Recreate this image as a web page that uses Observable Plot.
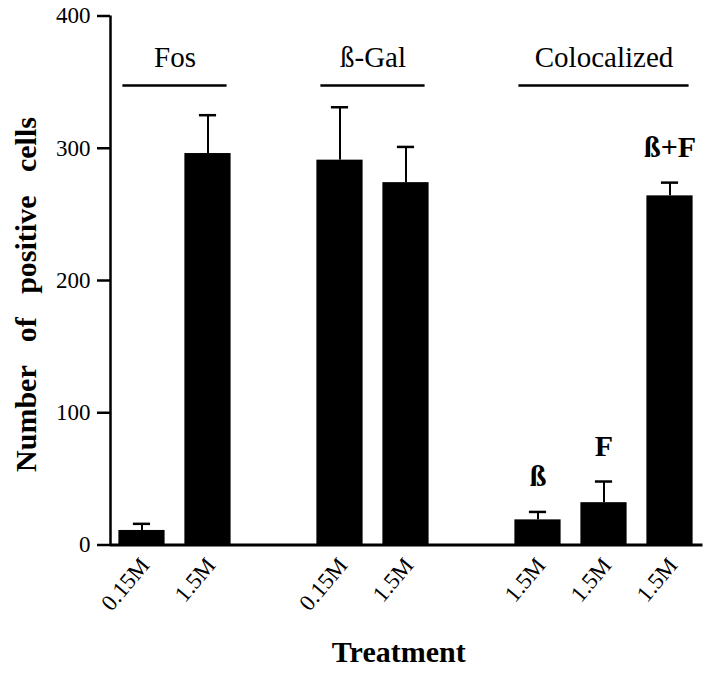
<!DOCTYPE html>
<html>
<head>
<meta charset="utf-8">
<script src="https://cdn.jsdelivr.net/npm/d3@7"></script>
<script src="https://cdn.jsdelivr.net/npm/@observablehq/plot@0.6"></script>
<style>
  html, body { margin: 0; padding: 0; background: #fff; }
  #chart { width: 714px; height: 673px; }
</style>
</head>
<body>
<div id="chart"></div>
<script>
// ---- data ----
const groups = ["Fos", "ß-Gal", "Colocalized"];
const barGroup = ["Fos", "Fos", "ß-Gal", "ß-Gal", "Colocalized", "Colocalized", "Colocalized"];
const treatments = ["0.15M", "1.5M", "0.15M", "1.5M", "1.5M", "1.5M", "1.5M"];
const markers = ["", "", "", "", "ß", "F", "ß+F"];
const values = [11, 296, 291, 274, 19, 32, 264];
const errors = [5, 29, 40, 27, 6, 16, 10];
const yTicks = [0, 100, 200, 300, 400];
const xTitle = "Treatment";
const yTitle = "Number of positive cells";

// ---- layout / style constants ----
const HALF = 0.35;      // half bar width (in slot units)
const CAP = 0.13;       // half error-cap width
const X_MIN = -0.477, X_MAX = 8.5;
const GROUP_Y = 347.5;  // height of group bracket lines
const serif = "'Liberation Serif', 'Times New Roman', Times, serif";

// one empty slot between groups
const bars = values.map((v, i) => ({
  pos: i + groups.indexOf(barGroup[i]),
  group: barGroup[i],
  treatment: treatments[i],
  marker: markers[i],
  value: v,
  top: v + errors[i]
}));
const spans = groups.map(g => {
  const b = bars.filter(d => d.group === g);
  const a = b[0].pos, z = b[b.length - 1].pos;
  return {group: g, x1: a - HALF, x2: z + HALF, mid: (a + z) / 2};
});

const plot = Plot.plot({
  width: 714,
  height: 673,
  marginLeft: 110,
  marginRight: 11.5,
  marginTop: 15.5,
  marginBottom: 128.5,
  style: {fontFamily: serif, background: "#fff", color: "#000"},
  x: {domain: [X_MIN, X_MAX], axis: null},
  y: {domain: [0, 400], axis: null},
  marks: [
    Plot.rectY(bars, {x1: d => d.pos - HALF, x2: d => d.pos + HALF, y1: 0, y2: "value", fill: "#000"}),
    Plot.ruleX(bars, {x: "pos", y1: "value", y2: "top", stroke: "#000", strokeWidth: 2}),
    Plot.ruleY(bars, {x1: d => d.pos - CAP, x2: d => d.pos + CAP, y: "top", stroke: "#000", strokeWidth: 2.5}),
    Plot.text(bars.filter(d => d.marker), {x: "pos", y: "top", text: "marker", dy: -26, lineAnchor: "bottom", fontWeight: "bold", fontSize: 30, fill: "#000"}),
    Plot.ruleY([0], {stroke: "#000", strokeWidth: 3}),
    Plot.ruleX([X_MIN], {y1: 0, y2: 400, stroke: "#000", strokeWidth: 2.5}),
    Plot.axisY({ticks: yTicks, tickSize: 13, tickPadding: 7, fontSize: 23, stroke: "#000", strokeWidth: 2.5, label: null}),
    Plot.text(bars, {x: "pos", y: 0, text: "treatment", rotate: -50, textAnchor: "end", lineAnchor: "middle", dx: 3, dy: 16, fontSize: 23, fill: "#000"}),
    Plot.ruleY(spans, {x1: "x1", x2: "x2", y: GROUP_Y, insetLeft: 4, insetRight: 4, stroke: "#000", strokeWidth: 2.5}),
    Plot.text(spans, {x: "mid", y: GROUP_Y, text: "group", dy: -18, lineAnchor: "bottom", fontSize: 29, fill: "#000"}),
    Plot.text([xTitle], {text: d => d, frameAnchor: "bottom", dx: -8, dy: 117, textAnchor: "middle", lineAnchor: "bottom", fontWeight: "bold", fontSize: 30, fill: "#000"}),
    Plot.text([yTitle], {text: d => d, frameAnchor: "left", rotate: -90, dx: -84, dy: 14, textAnchor: "middle", lineAnchor: "middle", fontWeight: "bold", fontSize: 30, fill: "#000"})
  ]
});

plot.querySelectorAll("text").forEach(t => {
  if (t.textContent === yTitle) t.style.wordSpacing = "16px";
});
document.getElementById("chart").appendChild(plot);
</script>
</body>
</html>
